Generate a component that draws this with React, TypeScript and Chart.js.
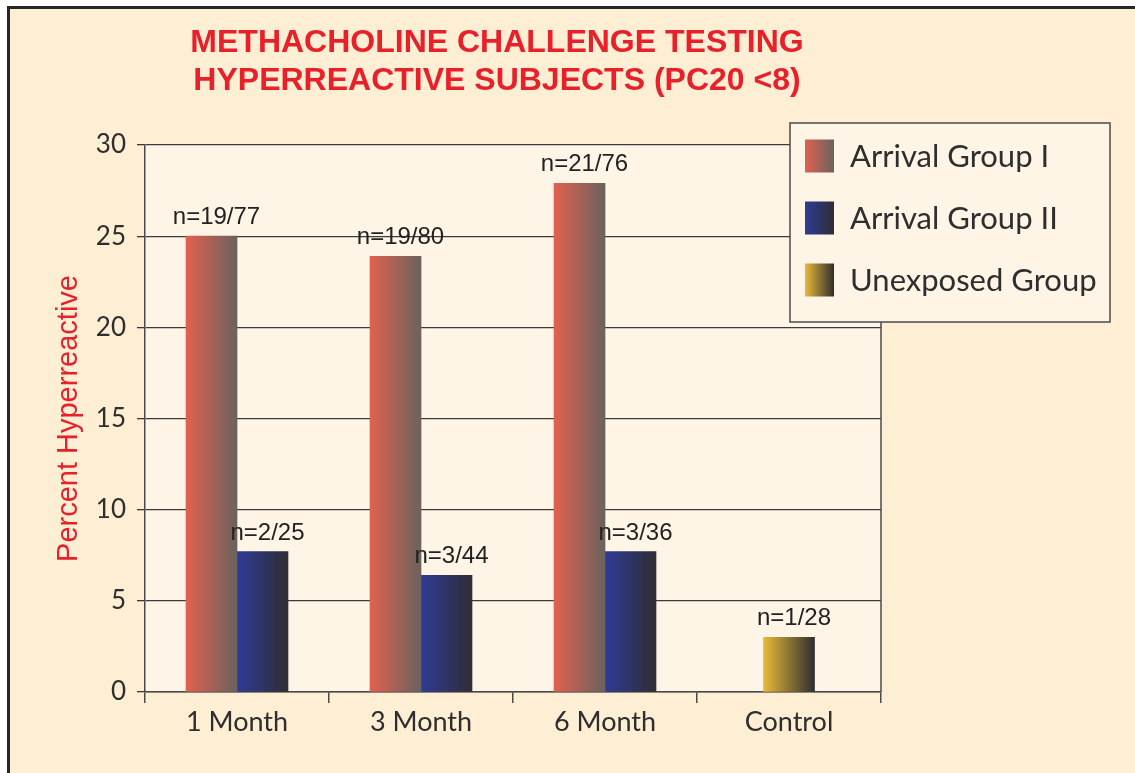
import React, { useEffect, useRef } from "react";
import { Chart, registerables } from "chart.js";

Chart.register(...registerables);

// ---- data ----
const categories = ["1 Month", "3 Month", "6 Month", "Control"];
const seriesNames = ["Arrival Group I", "Arrival Group II", "Unexposed Group"];
const groupI = [25, 23.9, 27.9, null];
const groupII = [7.7, 6.4, 7.7, null];
const unexposed = [null, null, null, 3.0];
const labelsI = ["n=19/77", "n=19/80", "n=21/76", ""];
const labelsII = ["n=2/25", "n=3/44", "n=3/36", ""];
const labelsU = ["", "", "", "n=1/28"];
const yMin = 0;
const yMax = 30;
const yStep = 5;
const titleLines = ["METHACHOLINE CHALLENGE TESTING", "HYPERREACTIVE SUBJECTS (PC20 <8)"];
const yTitle = "Percent Hyperreactive";

// ---- styles ----
const gradI = ["#e2614f", "#6a625e"];
const gradII = ["#2f3b95", "#2e2d33"];
const gradU = ["#e9b93a", "#2e2e2e"];
const gradients = [gradI, gradII, gradU];
const pointLabels = [labelsI, labelsII, labelsU];
const BAR_W = 51;
const PLOT_BG = "#fff5e6";
const RED = "#e8202a";
const INK = "#2e2e2e";
const GEO_FONT = "Lato";

function barFill(stops: string[]) {
  return (ctx: any) => {
    const chart = ctx.chart;
    const xs = chart.scales && chart.scales.x;
    if (ctx.type !== "data" || !xs) return stops[0];
    const i = ctx.dataIndex;
    const present = chart.data.datasets
      .map((d: any, k: number) => (d.data[i] != null ? k : -1))
      .filter((k: number) => k >= 0);
    const pos = present.indexOf(ctx.datasetIndex);
    const center = xs.getPixelForValue(i);
    if (!Number.isFinite(center) || pos < 0) return stops[0];
    const left = center - (BAR_W * present.length) / 2 + pos * BAR_W;
    const g = chart.ctx.createLinearGradient(left, 0, left + BAR_W, 0);
    g.addColorStop(0, stops[0]);
    g.addColorStop(1, stops[1]);
    return g;
  };
}

const decorPlugin = {
  id: "decor",
  beforeDraw(chart: any) {
    const { ctx, chartArea: a } = chart;
    ctx.save();
    ctx.fillStyle = PLOT_BG;
    ctx.fillRect(a.left, a.top, a.right - a.left, a.bottom - a.top);
    ctx.restore();
  },
  beforeDatasetsDraw(chart: any) {
    const { ctx, chartArea: a } = chart;
    ctx.save();
    ctx.strokeStyle = "#4a4a4a";
    ctx.lineWidth = 1.5;
    ctx.beginPath();
    ctx.moveTo(a.right, a.top);
    ctx.lineTo(a.right, a.bottom);
    ctx.stroke();
    ctx.restore();
  },
  afterDatasetsDraw(chart: any) {
    const { ctx } = chart;
    ctx.save();
    ctx.font = '24px "Liberation Sans", Arial, sans-serif';
    ctx.fillStyle = "#222";
    ctx.textAlign = "center";
    ctx.textBaseline = "alphabetic";
    chart.data.datasets.forEach((ds: any, k: number) => {
      const meta = chart.getDatasetMeta(k);
      meta.data.forEach((el: any, i: number) => {
        const txt = pointLabels[k][i];
        if (!txt || ds.data[i] == null) return;
        ctx.fillText(txt, el.x + 5, el.y - 12);
      });
    });
    ctx.restore();
  },
  afterDraw(chart: any) {
    const { ctx } = chart;
    ctx.save();
    // title
    ctx.fillStyle = RED;
    ctx.font = 'bold 32px "Liberation Sans", Arial, sans-serif';
    ctx.textAlign = "center";
    ctx.textBaseline = "middle";
    titleLines.forEach((t, k) => ctx.fillText(t, 497, 43 + k * 38));
    // legend
    const bx = 790, by = 123, bw = 320, bh = 199;
    ctx.fillStyle = PLOT_BG;
    ctx.fillRect(bx, by, bw, bh);
    ctx.strokeStyle = "#4a4a4a";
    ctx.lineWidth = 1.5;
    ctx.strokeRect(bx, by, bw, bh);
    seriesNames.forEach((name, k) => {
      const cy = by + 33 + k * 62;
      const sx = 805, sw = 29, sh = 33;
      const g = ctx.createLinearGradient(sx, 0, sx + sw, 0);
      g.addColorStop(0, gradients[k][0]);
      g.addColorStop(1, gradients[k][1]);
      ctx.fillStyle = g;
      ctx.fillRect(sx, cy - sh / 2, sw, sh);
      ctx.fillStyle = INK;
      ctx.font = `31px ${GEO_FONT}, sans-serif`;
      ctx.textAlign = "left";
      ctx.textBaseline = "middle";
      ctx.fillText(name, 850, cy + 1);
    });
    ctx.restore();
  },
};

export default function App() {
  const ref = useRef<HTMLCanvasElement | null>(null);

  useEffect(() => {
    if (!ref.current) return;
    const chart = new Chart(ref.current, {
      type: "bar",
      data: {
        labels: categories,
        datasets: [
          { label: seriesNames[0], data: groupI, backgroundColor: barFill(gradI) },
          { label: seriesNames[1], data: groupII, backgroundColor: barFill(gradII) },
          { label: seriesNames[2], data: unexposed, backgroundColor: barFill(gradU) },
        ] as any,
      },
      options: {
        responsive: false,
        animation: false,
        skipNull: true,
        barThickness: BAR_W,
        layout: { padding: { top: 145, right: 254, bottom: 0, left: 0 } },
        plugins: {
          legend: { display: false },
          title: { display: false },
          tooltip: { enabled: false },
        },
        scales: {
          x: {
            offset: true,
            grid: {
              offset: true,
              drawOnChartArea: false,
              drawTicks: true,
              tickLength: 11,
              color: "#4a4a4a",
              lineWidth: 1.5,
            },
            border: { display: true, color: "#4a4a4a", width: 1.5 },
            ticks: {
              color: INK,
              padding: 3,
              font: { family: GEO_FONT, size: 27 },
            },
            afterFit(scale: any) {
              scale.height = 81;
            },
          },
          y: {
            min: yMin,
            max: yMax,
            ticks: {
              stepSize: yStep,
              color: INK,
              padding: 11,
              font: { family: GEO_FONT, size: 26 },
            },
            grid: {
              color: "#3a3a3a",
              lineWidth: 1.3,
              tickLength: 8,
            },
            border: { display: true, color: "#4a4a4a", width: 1.5 },
            title: {
              display: true,
              text: yTitle,
              color: RED,
              font: { family: '"Liberation Sans", Arial, sans-serif', size: 29 },
              padding: { top: 52, bottom: 0 },
            },
            afterFit(scale: any) {
              scale.width = 145;
            },
          },
        },
      } as any,
      plugins: [decorPlugin],
    });
    return () => chart.destroy();
  }, []);

  return (
    <div style={{ position: "absolute", left: 0, top: 0, width: 1135, height: 773, background: "#ffffff", overflow: "hidden" }}>
      <div
        style={{
          position: "absolute",
          left: 7,
          top: 6,
          right: 0,
          bottom: 0,
          background: "#feeed3",
          borderLeft: "3px solid #262626",
          borderTop: "3px solid #262626",
        }}
      />
      <canvas ref={ref} width={1135} height={773} style={{ position: "absolute", left: 0, top: 0, width: 1135, height: 773 }} />
    </div>
  );
}
